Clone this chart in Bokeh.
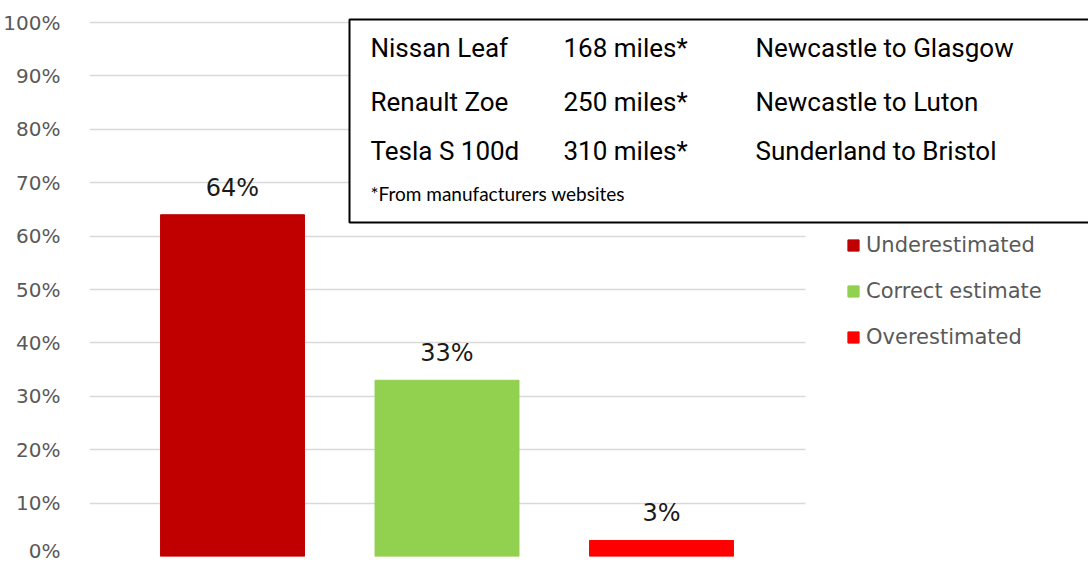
from bokeh.plotting import figure
from bokeh.models import (ColumnDataSource, Range1d, Legend, LegendItem, LabelSet,
                          BoxAnnotation, Label, FixedTicker, CustomJSTickFormatter)
from bokeh.core.properties import value
from bokeh.embed import file_html
from bokeh.resources import INLINE

# ---- data ----
categories = ["Underestimated", "Correct estimate", "Overestimated"]
values = [64, 33, 3]
colors = ["#C00000", "#92D050", "#FF0000"]
value_labels = ["64%", "33%", "3%"]
y_ticks = [0, 10, 20, 30, 40, 50, 60, 70, 80, 90, 100]

table_cars = ["Nissan Leaf", "Renault Zoe", "Tesla S 100d"]
table_ranges = ["168 miles*", "250 miles*", "310 miles*"]
table_routes = ["Newcastle to Glasgow", "Newcastle to Luton", "Sunderland to Bristol"]
table_note = "*From manufacturers websites"

# ---- layout geometry (figure pixels) ----
W, H = 1088, 562
FL, FR, FT, FB = 89, 1088, 16, 556
Y100 = 22
GRID_RIGHT = 805
XSTART = -0.6667
XSCALE = 214.5
YSCALE = (FB - Y100) / 100.0

def px2x(px):
    return XSTART + (px - FL) / XSCALE

def py2y(py):
    return (FB - py) / YSCALE

xs = list(range(len(categories)))
src = ColumnDataSource(dict(x=xs, top=values, color=colors, cat=categories, lab=value_labels))

p = figure(width=W, height=H, output_backend="svg", toolbar_location=None,
           x_range=Range1d(XSTART, px2x(FR)),
           y_range=Range1d(0, py2y(FT)),
           min_border_left=FL, min_border_right=W - FR,
           min_border_top=FT, min_border_bottom=H - FB)
p.outline_line_color = None
p.background_fill_color = "white"

p.xaxis.visible = False
p.xgrid.visible = False
p.ygrid.grid_line_color = "#D9D9D9"
p.ygrid.grid_line_width = 1.5
p.ygrid.ticker = FixedTicker(ticks=y_ticks)
try:
    p.ygrid.cross_bounds = (XSTART, px2x(GRID_RIGHT))
except Exception:
    p.ygrid.visible = False
    p.segment(x0=[XSTART] * len(y_ticks), x1=[px2x(GRID_RIGHT)] * len(y_ticks),
              y0=y_ticks, y1=y_ticks, line_color="#D9D9D9", line_width=1.5)

r = p.vbar(x="x", top="top", width=0.671, color="color", source=src)

p.yaxis.ticker = FixedTicker(ticks=y_ticks)
p.yaxis.formatter = CustomJSTickFormatter(code="return tick + '%';")
p.yaxis.axis_line_color = None
p.yaxis.major_tick_line_color = None
p.yaxis.minor_tick_line_color = None
p.yaxis.major_label_text_font = "DejaVu Sans"
p.yaxis.major_label_text_font_size = "20px"
p.yaxis.major_label_text_color = "#595959"
p.yaxis.major_label_standoff = 23

labels = LabelSet(x="x", y="top", text="lab", source=src, y_offset=27,
                  text_align="center", text_baseline="middle",
                  text_font=value("DejaVu Sans"), text_font_size=value("24px"),
                  text_color="#1a1a1a")
p.add_layout(labels)

# legend
items = [LegendItem(label=c, renderers=[r], index=i) for i, c in enumerate(categories)]
legend = Legend(items=items, location=(846 - FL, FB - 349),
                glyph_width=14, glyph_height=14, label_standoff=6,
                label_text_font="DejaVu Sans", label_text_font_size="21px",
                label_text_color="#595959", spacing=22, padding=0, margin=0,
                border_line_alpha=0, background_fill_alpha=0, label_height=24)
p.add_layout(legend)

# info box
box = BoxAnnotation(left=px2x(349), right=px2x(1100), top=py2y(19), bottom=py2y(222),
                    fill_color="white", fill_alpha=1.0,
                    line_color="black", line_alpha=1.0, line_width=2)
p.add_layout(box)

col_px = [370, 563, 755]
row_py = [47, 101, 150]
for i in range(3):
    for cx, txt in zip(col_px, [table_cars[i], table_ranges[i], table_routes[i]]):
        p.add_layout(Label(x=px2x(cx), y=py2y(row_py[i]), text=txt,
                           text_font="Roboto", text_font_size="26px",
                           text_color="black", text_baseline="middle"))
p.add_layout(Label(x=px2x(370), y=py2y(193), text=table_note,
                   text_font="Lato", text_font_size="19px",
                   text_color="black", text_baseline="middle"))

open("out.html", "w").write(file_html(p, INLINE))
